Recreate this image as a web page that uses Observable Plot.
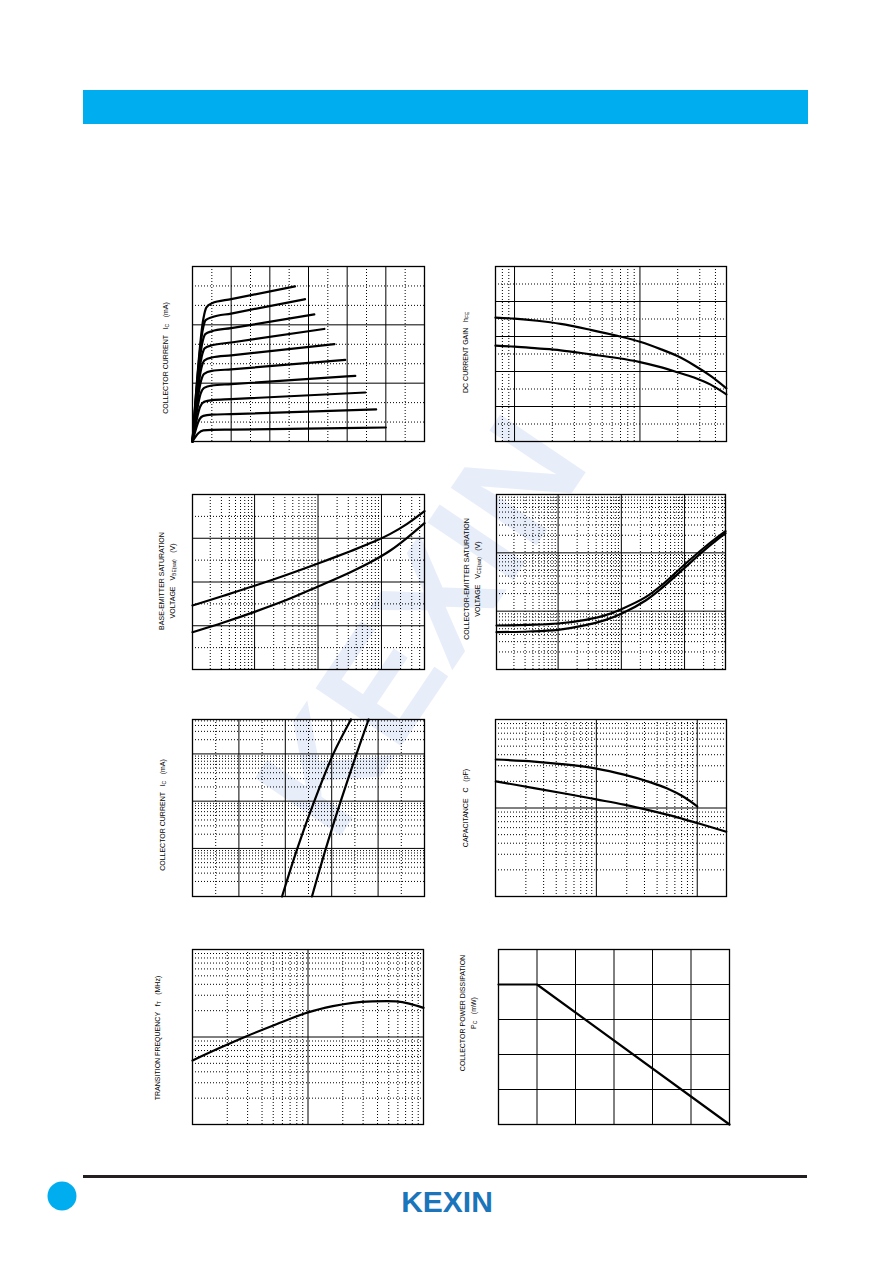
<!DOCTYPE html>
<html><head><meta charset="utf-8">
<script src="https://cdn.jsdelivr.net/npm/d3@7"></script>
<script src="https://cdn.jsdelivr.net/npm/@observablehq/plot@0.6"></script>
<style>
body{margin:0;background:#fff;}
#page{position:relative;width:892px;height:1263px;overflow:hidden;font-family:"Liberation Sans",Arial,sans-serif;background:#fff;}
#page svg{position:absolute;}
</style></head><body><div id="page"></div>
<script>
// ---------- DATA ----------
// Chart 1: IC vs VCE, one curve per base-current step  [VCE (V), IC (mA)]
const icVceCurves = [
  [[0,0],[0.28,6.3],[0.36,6.9],[0.5,7.11],[1.0,7.32],[2.65,7.98]],
  [[0,0],[0.26,5.7],[0.34,6.24],[0.5,6.39],[1.0,6.58],[2.91,7.32]],
  [[0,0],[0.25,5.04],[0.33,5.52],[0.5,5.67],[1.0,5.83],[3.15,6.54]],
  [[0,0],[0.24,4.38],[0.32,4.8],[0.5,4.95],[1.0,5.09],[3.41,5.79]],
  [[0,0],[0.23,3.78],[0.31,4.17],[0.5,4.32],[1.0,4.43],[3.67,5.01]],
  [[0,0],[0.22,3.12],[0.3,3.48],[0.5,3.63],[1.0,3.71],[3.95,4.2]],
  [[0,0],[0.21,2.46],[0.3,2.76],[0.5,2.88],[1.0,2.95],[4.21,3.375]],
  [[0,0],[0.2,1.8],[0.3,2.04],[0.5,2.13],[1.0,2.18],[4.47,2.52]],
  [[0,0],[0.18,1.14],[0.28,1.32],[0.5,1.38],[1.0,1.41],[4.75,1.65]],
  [[0,0],[0.15,0.42],[0.28,0.57],[0.5,0.6],[1.0,0.61],[5.0,0.72]]
];
// Chart 2: DC current gain vs IC
const gainIc   = [0.705, 1, 1.516, 2.33, 4.04, 6.59, 10, 14.6, 19.9, 27.0, 36.6, 48.9];
const gainHigh = [354, 351, 345, 336, 319, 302, 285, 264, 244, 218, 187.5, 152];
const gainLow  = [274, 271, 266, 260.6, 249, 238.5, 227, 212.5, 198, 182.7, 162.5, 134.6];
// Chart 3: VBE(sat) vs IC
const vbeIc   = [0.105, 0.324, 1, 3.24, 10, 32.4, 75.3, 138, 254, 477];
const vbeHigh = [0.585, 0.674, 0.765, 0.866, 0.969, 1.082, 1.167, 1.240, 1.332, 1.448];
const vbeLow  = [0.341, 0.430, 0.527, 0.637, 0.759, 0.890, 0.997, 1.088, 1.204, 1.338];
// Chart 4: VCE(sat) vs IC
const vceIc   = [0.106, 0.348, 1, 2.73, 5.66, 10, 24.2, 50.1, 100, 215, 444];
const vceHigh = [0.0568, 0.0583, 0.0614, 0.0710, 0.0854, 0.1082, 0.1738, 0.318, 0.631, 1.284, 2.35];
const vceLow  = [0.0437, 0.0448, 0.0479, 0.0575, 0.0710, 0.0900, 0.1524, 0.283, 0.553, 1.156, 2.17];
// Chart 5: IC vs VBE
const icVbeI = [0.096, 1, 10, 100, 535];
const vbeA   = [0.386, 0.452, 0.525, 0.607, 0.683];
const vbeB   = [0.515, 0.575, 0.639, 0.707, 0.759];
// Chart 6: capacitance vs reverse voltage
const capVUp  = [0.1007, 0.241, 0.516, 1, 1.88, 3.45, 5.05, 7.38, 10];
const capUp   = [35.3, 33.5, 30.9, 27.9, 23.8, 19.5, 16.6, 13.3, 10.4];
const capVLow = [0.1007, 0.241, 0.516, 1, 1.88, 3.45, 6.34, 10, 19.4];
const capLow  = [20.0, 16.8, 14.4, 12.5, 10.9, 9.33, 7.84, 6.76, 5.40];
// Chart 7: transition frequency vs IC
const ftIc  = [1, 1.73, 2.94, 5.33, 10, 16.4, 24.4, 36.3, 57.7, 75.2, 100];
const ftVal = [53.9, 75.2, 102, 140, 191, 225, 246, 255, 255, 241, 215];
// Chart 8: power derating
const ambientT = [0, 25, 150];
const pcVal    = [200, 200, 0];

// Axis titles (rotated); _{..} marks a subscript
const titles = [
  {cx:165, cy:358, lines:["COLLECTOR CURRENT   I_{C}   (mA)"]},
  {cx:465, cy:352, lines:["DC CURRENT GAIN   h_{FE}"]},
  {cx:161, cy:581, lines:["BASE-EMITTER SATURATION","VOLTAGE   V_{BE(sat)}   (V)"]},
  {cx:466, cy:579, lines:["COLLECTOR-EMITTER SATURATION","VOLTAGE   V_{CE(sat)}   (V)"]},
  {cx:162, cy:815, lines:["COLLECTOR CURRENT   I_{C}   (mA)"]},
  {cx:465, cy:808, lines:["CAPACITANCE   C   (pF)"]},
  {cx:157, cy:1038, lines:["TRANSITION FREQUENCY   f_{T}   (MHz)"]},
  {cx:462, cy:1013, lines:["COLLECTOR POWER DISSIPATION","P_{C}   (mW)"]}
];
const logoText = "KEXIN";
const watermarkText = "KEXIN";

// ---------- HELPERS ----------
const page = document.getElementById("page");
const logMinors = (decades, from, to) => decades.flatMap(d => [2,3,4,5,6,7,8,9].map(k => +(k*d).toPrecision(3))).filter(v => v > from && v < to);
const pairs = (xs, ys, s) => xs.map((x,i) => ({s, x, y: ys[i]}));

function chart(cfg){
  const m = 2;
  const dot = {stroke:"#000", strokeWidth:1, strokeDasharray:"1,2"};
  const solid = {stroke:"#000", strokeWidth:1};
  const marks = [];
  if (cfg.xMinor) marks.push(Plot.ruleX(cfg.xMinor, dot));
  if (cfg.yMinor) marks.push(Plot.ruleY(cfg.yMinor, dot));
  marks.push(Plot.ruleX(cfg.xMajor, solid));
  marks.push(Plot.ruleY(cfg.yMajor, solid));
  marks.push(Plot.frame({stroke:"#000", strokeWidth:1.3}));
  marks.push(Plot.line(cfg.data, {x:"x", y:"y", z:"s", stroke:"#000", strokeWidth:cfg.sw || 2.2, curve: cfg.curve || "catmull-rom"}));
  const svg = Plot.plot({
    width: cfg.w + 2*m, height: cfg.h + 2*m, margin: m,
    x: {...cfg.x, axis: null}, y: {...cfg.y, axis: null},
    style: {background: "transparent", overflow: "visible"},
    marks
  });
  svg.style.left = (cfg.left - m) + "px";
  svg.style.top = (cfg.top - m) + "px";
  page.appendChild(svg);
}

// ---------- WATERMARK (behind) ----------
const wm = d3.select(page).append("svg").attr("width", 892).attr("height", 1263).style("left", "0px").style("top", "0px");
wm.append("text").attr("transform", "translate(420,625) rotate(-56)")
  .attr("text-anchor","middle").attr("dominant-baseline","central")
  .attr("font-family","Liberation Sans, Arial, sans-serif").attr("font-weight","bold")
  .attr("font-size",150).attr("fill","#e8eef9").text(watermarkText);

// ---------- CHARTS ----------
chart({left:192, top:266, w:232, h:175,
  x:{domain:[0,6]}, y:{domain:[0,9]},
  xMajor:[1,2,3,4,5], xMinor:[0.5,1.5,2.5,3.5,4.5,5.5],
  yMajor:[3,6], yMinor:[1,2,4,5,7,8], curve:"monotone-x",
  data: icVceCurves.flatMap((pts,i) => pts.map(([x,y]) => ({s:i, x, y})))});

chart({left:495, top:266, w:231, h:175,
  x:{type:"log", domain:[0.705,49]}, y:{domain:[0,500]},
  xMajor:[1,10], xMinor:[0.8,0.9, ...logMinors([1,10],0.705,49)],
  yMajor:[100,200,300,400], yMinor:[50,150,250,350,450],
  data:[...pairs(gainIc,gainHigh,"h"), ...pairs(gainIc,gainLow,"l")]});

chart({left:192, top:494, w:232, h:175,
  x:{type:"log", domain:[0.105,477]}, y:{domain:[0,1.6]},
  xMajor:[1,10,100], xMinor:logMinors([0.1,1,10,100],0.105,477),
  yMajor:[0.4,0.8,1.2], yMinor:[0.2,0.6,1.0,1.4],
  data:[...pairs(vbeIc,vbeHigh,"h"), ...pairs(vbeIc,vbeLow,"l")]});

chart({left:496, top:494, w:229, h:175,
  x:{type:"log", domain:[0.106,444]}, y:{type:"log", domain:[0.01,10]},
  xMajor:[1,10,100], xMinor:logMinors([0.1,1,10,100],0.106,444),
  yMajor:[0.1,1], yMinor:logMinors([0.01,0.1,1],0.01,10),
  data:[...pairs(vceIc,vceHigh,"h"), ...pairs(vceIc,vceLow,"l")]});

chart({left:192, top:719, w:232, h:177,
  x:{domain:[0,1]}, y:{type:"log", domain:[0.096,535]},
  xMajor:[0.2,0.4,0.6,0.8], xMinor:[0.1,0.3,0.5,0.7,0.9],
  yMajor:[1,10,100], yMinor:logMinors([0.1,1,10,100],0.096,535),
  data:[...icVbeI.map((y,i)=>({s:"a", x:vbeA[i], y})), ...icVbeI.map((y,i)=>({s:"b", x:vbeB[i], y}))]});

chart({left:495, top:719, w:231, h:177,
  x:{type:"log", domain:[0.1,19.5]}, y:{type:"log", domain:[1,100]},
  xMajor:[1,10], xMinor:logMinors([0.1,1,10],0.1,19.5),
  yMajor:[10], yMinor:logMinors([1,10],1,100),
  data:[...pairs(capVUp,capUp,"u"), ...pairs(capVLow,capLow,"l")]});

chart({left:192, top:949, w:231, h:175,
  x:{type:"log", domain:[1,100]}, y:{type:"log", domain:[10,1000]},
  xMajor:[10], xMinor:logMinors([1,10],1,100),
  yMajor:[100], yMinor:logMinors([10,100],10,1000),
  data: pairs(ftIc, ftVal, "f")});

chart({left:498, top:949, w:231, h:175,
  x:{domain:[0,150]}, y:{domain:[0,250]},
  xMajor:[25,50,75,100,125], yMajor:[50,100,150,200],
  curve:"linear", sw:2.2,
  data: pairs(ambientT, pcVal, "p")});

// ---------- OVERLAY: header, footer, titles ----------
const ov = d3.select(page).append("svg").attr("width", 892).attr("height", 1263).style("left","0px").style("top","0px");
ov.append("rect").attr("x",83).attr("y",90).attr("width",725).attr("height",34).attr("fill","#00aeef");
ov.append("rect").attr("x",83).attr("y",1175).attr("width",724).attr("height",3).attr("fill","#231f20");
ov.append("circle").attr("cx",62).attr("cy",1196).attr("r",14.5).attr("fill","#00aeef");
ov.append("text").attr("x",447).attr("y",1212).attr("text-anchor","middle")
  .attr("font-family","Liberation Sans, Arial, sans-serif").attr("font-weight","bold")
  .attr("font-size",30).attr("fill","#1b75bb").text(logoText);

titles.forEach(t => {
  t.lines.forEach((line, li) => {
    const txt = ov.append("text")
      .attr("transform", `translate(${t.cx + li*11},${t.cy}) rotate(-90)`)
      .attr("text-anchor","middle").attr("dominant-baseline","central")
      .attr("font-family","Liberation Sans, Arial, sans-serif").attr("font-size",7)
      .attr("fill","#000").style("white-space","pre");
    line.split(/(_\{[^}]*\})/).forEach(part => {
      if (!part) return;
      if (part.startsWith("_{")) {
        txt.append("tspan").attr("font-size",5).attr("dy",2).text(part.slice(2,-1));
        txt.append("tspan").attr("dy",-2).text("\u200A");
      } else txt.append("tspan").text(part);
    });
  });
});
</script></body></html>
